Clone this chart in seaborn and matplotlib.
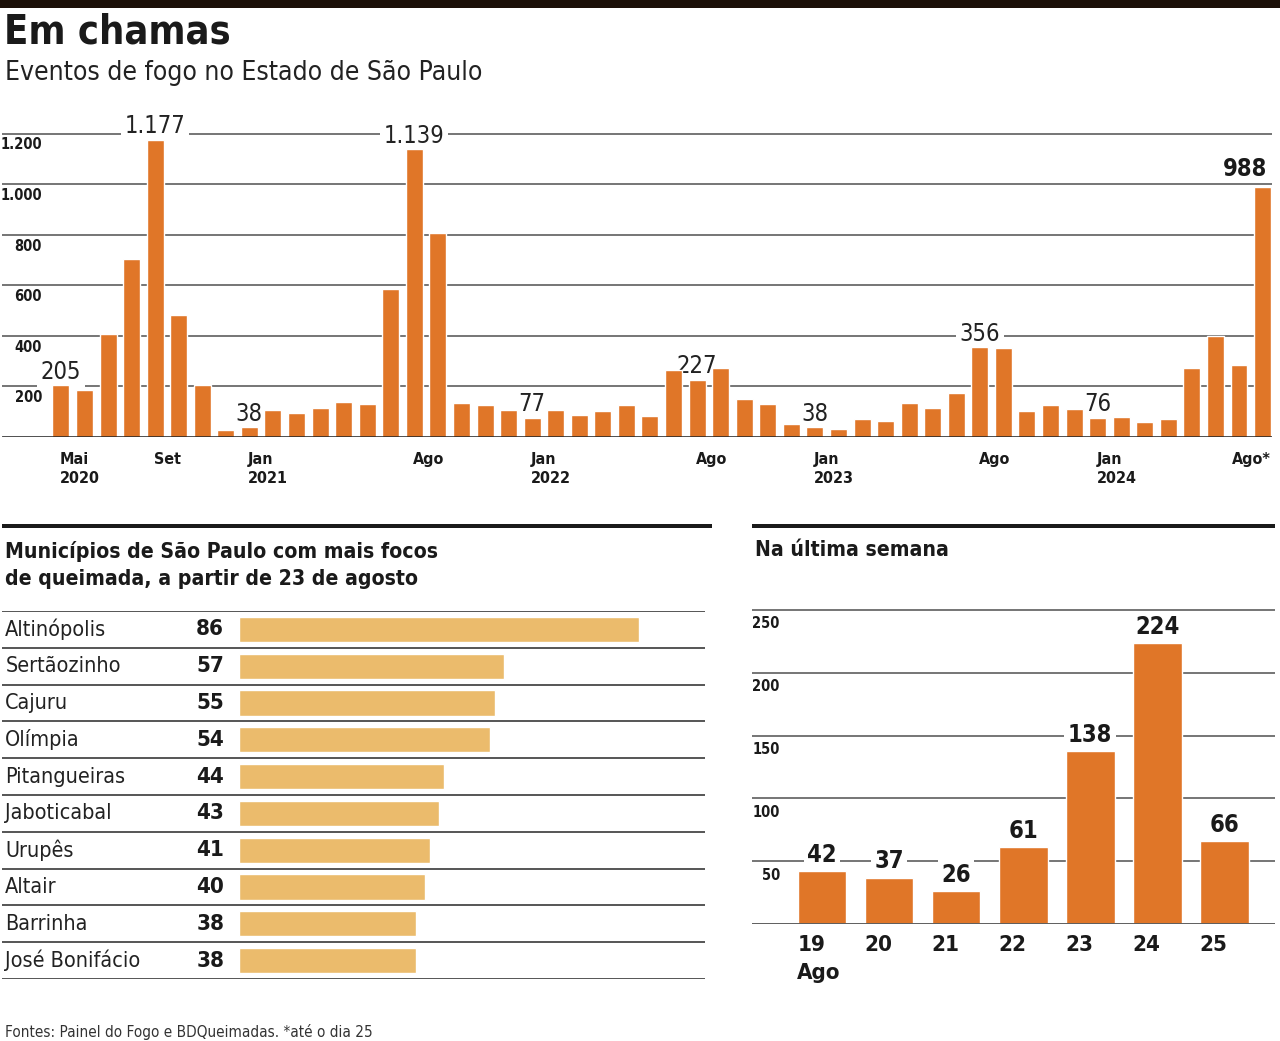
import numpy as np
import pandas as pd
import seaborn as sns
import matplotlib.pyplot as plt
from matplotlib import font_manager

# monthly fire events, May 2020 .. Aug 2024 (Aug 2024 until day 25)
months = pd.date_range('2020-05-01', '2024-08-01', freq='MS').strftime('%Y-%m').tolist()
monthly_values = [205, 188, 408, 704, 1177, 484, 207, 26, 38, 105, 96, 113, 138, 132, 586, 1139,
                  809, 136, 128, 105, 77, 105, 88, 101, 128, 84, 267, 227, 272, 151, 132, 53,
                  38, 30, 70, 63, 134, 114, 175, 356, 354, 101, 126, 109, 76, 78, 59, 72,
                  272, 401, 286, 988]
month_ticks = {0: ('Mai', '2020'), 4: ('Set', ''), 8: ('Jan', '2021'), 15: ('Ago', ''),
               20: ('Jan', '2022'), 27: ('Ago', ''), 32: ('Jan', '2023'), 39: ('Ago', ''),
               44: ('Jan', '2024'), 51: ('Ago*', '')}
monthly_labels = [0, 4, 8, 15, 20, 27, 32, 39, 44]
monthly_yticks = [200, 400, 600, 800, 1000, 1200]

cities = ['Altinópolis', 'Sertãozinho', 'Cajuru', 'Olímpia', 'Pitangueiras',
          'Jaboticabal', 'Urupês', 'Altair', 'Barrinha', 'José Bonifácio']
city_values = [86, 57, 55, 54, 44, 43, 41, 40, 38, 38]

days = ['19', '20', '21', '22', '23', '24', '25']
day_values = [42, 37, 26, 61, 138, 224, 66]
day_yticks = [50, 100, 150, 200, 250]

ORANGE = '#E07628'
GOLD = '#EBBB6C'
GRID = '#5e5e5e'
INK = '#1a1a1a'

sns.set_theme(style='white')
names = {f.name for f in font_manager.fontManager.ttflist}
if 'Liberation Sans Narrow' in names:
    NARROW = ['Liberation Sans Narrow', 'DejaVu Sans']
    STRETCH = 'normal'
else:
    NARROW = ['DejaVu Sans']
    STRETCH = 'condensed'
plt.rcParams['font.family'] = NARROW
plt.rcParams['font.stretch'] = STRETCH

W, H = 1280, 1041
fig = plt.figure(figsize=(W / 100, H / 100), dpi=100)


def box(l, t, r, b):
    return [l / W, 1 - b / H, (r - l) / W, (b - t) / H]


def fmt(v):
    return f'{v:,}'.replace(',', '.')


def rule(l, t, r, b, color=INK):
    fig.add_artist(plt.Rectangle((l / W, 1 - b / H), (r - l) / W, (b - t) / H,
                                 transform=fig.transFigure, color=color, lw=0))


# header
rule(0, 0, W, 8, '#1c1008')
fig.text(4 / W, 1 - 33 / H, 'Em chamas', fontsize=28.5, fontweight='heavy', color=INK, va='center')
fig.text(5 / W, 1 - 73 / H, 'Eventos de fogo no Estado de São Paulo', fontsize=19, color='#222', va='center')

# ---- monthly chart
ax1 = fig.add_axes(box(2, 108.7, 1272, 437))
df1 = pd.DataFrame({'mes': months, 'eventos': monthly_values})
sns.barplot(data=df1, x='mes', y='eventos', color=ORANGE, saturation=1, width=0.72, ax=ax1, zorder=5)
ax1.set_xlim(-2.5, 51.4)
ax1.set_ylim(0, 1300)
for v in monthly_yticks:
    ax1.axhline(v, color=GRID, lw=1.2, zorder=1)
    ax1.text(-0.8, v - 14, fmt(v), ha='right', va='top', fontsize=10.5, fontweight='bold', color=INK)
ax1.axhline(0, color=INK, lw=1.8, zorder=6)
for i, (m, y) in month_ticks.items():
    ha = 'right' if i == len(months) - 1 else 'left'
    x = i + 0.35 if ha == 'right' else i - 0.05
    ax1.annotate(m, (x, 0), xytext=(0, -16), textcoords='offset points', ha=ha, va='center',
                 fontsize=11.5, fontweight='bold', color=INK, annotation_clip=False)
    if y:
        ax1.annotate(y, (x, 0), xytext=(0, -30), textcoords='offset points', ha=ha, va='center',
                     fontsize=11.5, fontweight='bold', color=INK, annotation_clip=False)
for i in monthly_labels:
    ax1.annotate(fmt(monthly_values[i]), (i, monthly_values[i]), xytext=(0, 1), textcoords='offset points',
                 ha='center', va='bottom', fontsize=17, fontweight='light', color='#222', zorder=4,
                 bbox=dict(fc='white', ec='none', pad=2.5))
ax1.annotate(fmt(monthly_values[-1]), (len(months) - 1 + 0.2, monthly_values[-1]), xytext=(0, 5),
             textcoords='offset points', ha='right', va='bottom', fontsize=17, fontweight='bold',
             color=INK, zorder=4)

# ---- municipalities chart
rule(2, 524, 712, 528)
fig.text(5 / W, 1 - 551 / H, 'Municípios de São Paulo com mais focos', fontsize=15.2, fontweight='bold',
         color=INK, va='center')
fig.text(5 / W, 1 - 579 / H, 'de queimada, a partir de 23 de agosto', fontsize=15.2, fontweight='bold',
         color=INK, va='center')
ax2 = fig.add_axes(box(2, 611, 705, 979))
df2 = pd.DataFrame({'cidade': cities, 'focos': city_values})
sns.barplot(data=df2, y='cidade', x='focos', orient='h', color=GOLD, saturation=1, width=0.68, ax=ax2)
ax2.set_xlim(-51, 100.2)
ax2.set_ylim(len(cities) - 0.5, -0.5)
for k in range(len(cities) + 1):
    ax2.axhline(k - 0.5, color='#555555', lw=1.4)
for i, (c, v) in enumerate(zip(cities, city_values)):
    ax2.text(-50.3, i, c, ha='left', va='center', fontsize=15.5, color='#222')
    ax2.text(-3.2, i, str(v), ha='right', va='center', fontsize=16, fontweight='bold', color=INK)

# ---- last week chart
rule(752, 524, 1275, 528)
fig.text(755 / W, 1 - 550 / H, 'Na última semana', fontsize=15.2, fontweight='bold', color=INK, va='center')
ax3 = fig.add_axes(box(752, 585, 1275, 924))
df3 = pd.DataFrame({'dia': days, 'focos': day_values})
sns.barplot(data=df3, x='dia', y='focos', color=ORANGE, saturation=1, width=0.73, ax=ax3, zorder=5)
ax3.set_xlim(-1.045, 6.76)
ax3.set_ylim(0, 270)
for v in day_yticks:
    ax3.axhline(v, color=GRID, lw=1.2, zorder=1)
    ax3.text(-0.63, v - 5, str(v), ha='right', va='top', fontsize=10.5, fontweight='bold', color=INK)
ax3.axhline(0, color=GRID, lw=1.4, zorder=6)
for i, (d, v) in enumerate(zip(days, day_values)):
    ax3.annotate(str(v), (i, v), xytext=(0, 3), textcoords='offset points', ha='center', va='bottom',
                 fontsize=17, fontweight='bold', color=INK, zorder=4,
                 bbox=dict(fc='white', ec='none', pad=2.5))
    ax3.annotate(d, (i - 0.37, 0), xytext=(0, -15), textcoords='offset points', ha='left', va='center',
                 fontsize=16, fontweight='bold', color=INK, annotation_clip=False)
ax3.annotate('Ago', (-0.37, 0), xytext=(0, -35.5), textcoords='offset points', ha='left', va='center',
             fontsize=16, fontweight='bold', color=INK, annotation_clip=False)

for ax in (ax1, ax2, ax3):
    ax.set_xticks([])
    ax.set_yticks([])
    ax.set_xlabel('')
    ax.set_ylabel('')
    sns.despine(ax=ax, left=True, bottom=True)
    ax.patch.set_alpha(0)

fig.text(5 / W, 1 - 1032 / H, 'Fontes: Painel do Fogo e BDQueimadas. *até o dia 25', fontsize=11,
         color='#333', va='center')

fig.savefig('out.png', dpi=100, facecolor='white')
